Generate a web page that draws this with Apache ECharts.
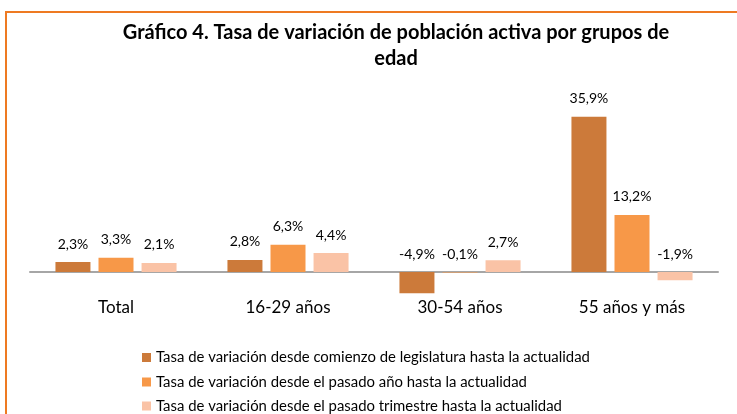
<!DOCTYPE html>
<html>
<head>
<meta charset="utf-8">
<script src="https://cdn.jsdelivr.net/npm/echarts@6/dist/echarts.min.js"></script>
<style>html,body{margin:0;padding:0;background:#fff}#c{width:737px;height:414px}</style>
</head>
<body>
<div id="c"></div>
<script>
const categories = ['Total', '16-29 años', '30-54 años', '55 años y más'];
const seriesNames = [
  'Tasa de variación desde comienzo de legislatura hasta la actualidad',
  'Tasa de variación desde el pasado año hasta la actualidad',
  'Tasa de variación desde el pasado trimestre hasta la actualidad'
];
const legislatura = [2.3, 2.8, -4.9, 35.9];
const pasadoAnio = [3.3, 6.3, -0.1, 13.2];
const pasadoTrimestre = [2.1, 4.4, 2.7, -1.9];
const colors = ['#CC7A3A', '#F79848', '#FAC3A6'];
const titleText = 'Gráfico 4. Tasa de variación de población activa por grupos de\nedad';

const FONT = 'Lato';
const fmt = p => p.value.toFixed(1).replace('.', ',') + '%';
const mk = (name, data, i) => ({
  name, type: 'bar', data,
  barWidth: 35, barGap: '23%',
  itemStyle: { color: colors[i] },
  label: { show: true, position: 'top', distance: 11, formatter: fmt,
           color: '#000', fontFamily: FONT, fontSize: 14 }
});
const legendTops = [349.5, 374, 398];
const legends = seriesNames.map((n, i) => ({
  orient: 'horizontal', left: 142, top: legendTops[i], padding: 0,
  itemWidth: 9, itemHeight: 9, icon: 'rect', data: [n],
  textStyle: { fontFamily: FONT, fontSize: 14.9, color: '#000', lineHeight: 16 }
}));

const chart = echarts.init(document.getElementById('c'));
chart.setOption({
  animation: false,
  color: colors,
  graphic: [{ type: 'rect', shape: { x: 6, y: 12, width: 800, height: 500 },
              style: { fill: 'none', stroke: '#EE7A22', lineWidth: 2 }, silent: true }],
  title: { text: titleText, left: 391, top: 15, textAlign: 'center',
           textStyle: { fontFamily: FONT, fontWeight: 'bold', fontSize: 20, lineHeight: 26, color: '#000' } },
  legend: legends,
  grid: { left: 30, right: 19, top: 99, bottom: 116, containLabel: false },
  xAxis: { type: 'category', data: categories,
           axisLine: { onZero: true, lineStyle: { color: '#A6A6A6', width: 2 } },
           axisTick: { show: false },
           axisLabel: { margin: 1, color: '#000', fontFamily: FONT, fontSize: 17 } },
  yAxis: { type: 'value', min: -6, max: 40, show: false, splitLine: { show: false } },
  series: [mk(seriesNames[0], legislatura, 0), mk(seriesNames[1], pasadoAnio, 1), mk(seriesNames[2], pasadoTrimestre, 2)]
});
</script>
</body>
</html>
